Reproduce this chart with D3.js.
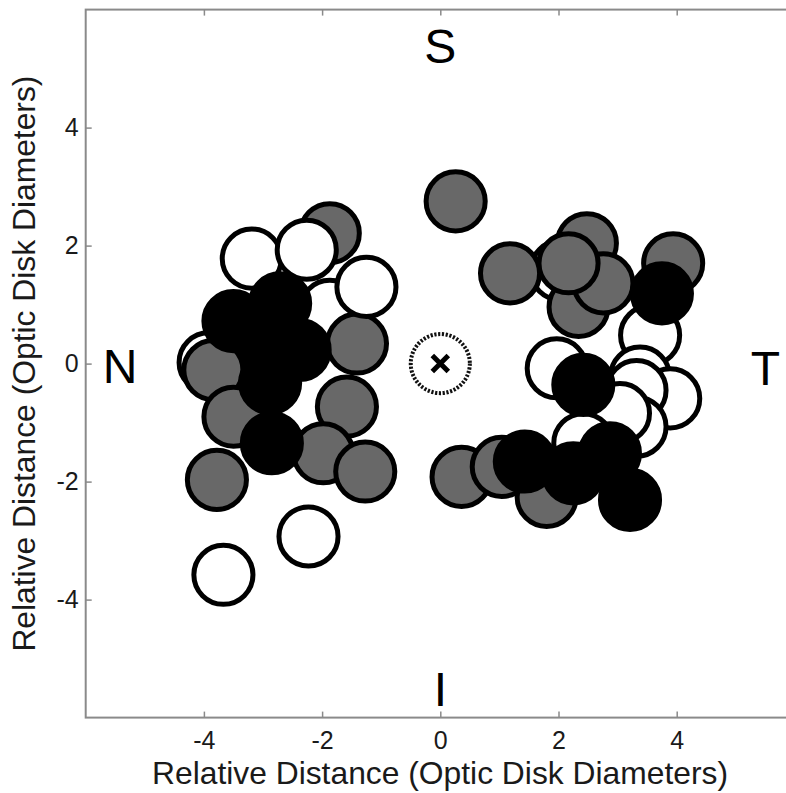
<!DOCTYPE html>
<html>
<head>
<meta charset="utf-8">
<script src="https://cdn.jsdelivr.net/npm/d3@7"></script>
<style>
body { margin: 0; background: #fff; }
text { font-family: "Liberation Sans", Arial, sans-serif; }
</style>
</head>
<body>
<div id="chart"></div>
<script>
// spot locations in optic disk diameters, in plotting order (later ones sit on top)
var spots = [
    [-3.92, 0.02, "open"], [2.03, 1.58, "open"], [-1.87, 0.91, "open"],
    [-1.87, 2.21, "gray"], [-1.41, 0.34, "gray"], [-3.84, -0.11, "gray"],
    [-3.50, -0.90, "gray"], [-1.58, -0.73, "gray"], [-1.98, -1.52, "gray"],
    [-1.27, -1.83, "gray"], [-3.78, -1.97, "gray"], [0.26, 2.75, "gray"],
    [1.18, 1.53, "gray"], [2.48, 2.04, "gray"], [2.34, 0.96, "gray"],
    [2.76, 1.36, "gray"], [2.17, 1.70, "gray"], [3.94, 1.70, "gray"],
    [0.36, -1.92, "gray"], [1.04, -1.75, "gray"], [1.80, -2.26, "gray"],
    [-3.19, 1.78, "open"], [-2.26, 1.93, "open"], [-1.25, 1.30, "open"],
    [-3.67, -3.58, "open"], [-2.23, -2.93, "open"], [3.55, 0.48, "open"],
    [1.97, -0.08, "open"], [3.38, -0.22, "open"], [3.89, -0.59, "open"],
    [3.32, -0.45, "open"], [3.32, -1.07, "open"], [3.04, -0.84, "open"],
    [2.42, -1.35, "open"],
    [-3.50, 0.72, "solid"], [-2.71, 1.02, "solid"], [-2.88, 0.27, "solid"],
    [-2.38, 0.23, "solid"], [-2.88, -0.33, "solid"], [-2.85, -1.35, "solid"],
    [3.75, 1.19, "solid"], [2.42, -0.36, "solid"], [1.43, -1.66, "solid"],
    [2.25, -1.86, "solid"], [2.87, -1.52, "solid"], [3.21, -2.31, "solid"]
];
var fovea = [0, 0];
var xTicks = [-4, -2, 0, 2, 4];
var yTicks = [-4, -2, 0, 2, 4];
var compass = [
    {name: "S", x: 0, y: 5.1},
    {name: "N", x: -5.42, y: -0.33},
    {name: "T", x: 5.5, y: -0.36},
    {name: "I", x: 0, y: -5.8}
];
var spotRadius = 0.5; // one disk diameter across

var width = 786, height = 793;
var fills = {open: "#ffffff", gray: "#686868", solid: "#000000"};

var svg = d3.select("#chart").append("svg")
    .attr("width", width)
    .attr("height", height);

var x = d3.scaleLinear().domain([-6, 6]).range([85.7, 794.9]);
var y = d3.scaleLinear().domain([-6, 6]).range([717.6, 9.6]);
var unit = x(1) - x(0);

// axes box
svg.append("rect")
    .attr("x", x(-6)).attr("y", y(6))
    .attr("width", x(6) - x(-6)).attr("height", y(-6) - y(6))
    .attr("fill", "none")
    .attr("stroke", "#8a8a8a")
    .attr("stroke-width", 2);

function styleAxis(g) {
    g.select(".domain").remove();
    g.selectAll(".tick line").attr("stroke", "#8a8a8a").attr("stroke-width", 1.5);
    g.selectAll(".tick text").attr("fill", "#1a1a1a")
        .style("font-family", "'Liberation Sans', Arial, sans-serif")
        .style("font-size", "25px");
}

svg.append("g")
    .attr("transform", "translate(0," + y(-6) + ")")
    .call(d3.axisBottom(x).tickValues(xTicks).tickSizeInner(-6).tickSizeOuter(0)
        .tickPadding(14).tickFormat(function(d) { return String(d); }))
    .call(styleAxis);

svg.append("g")
    .attr("transform", "translate(0," + y(6) + ")")
    .call(d3.axisTop(x).tickValues(xTicks).tickSizeInner(-6).tickSizeOuter(0).tickFormat(""))
    .call(styleAxis);

svg.append("g")
    .attr("transform", "translate(" + x(-6) + ",0)")
    .call(d3.axisLeft(y).tickValues(yTicks).tickSizeInner(-6).tickSizeOuter(0)
        .tickPadding(7).tickFormat(function(d) { return String(d); }))
    .call(styleAxis);

// axis titles
svg.append("text")
    .attr("x", 440).attr("y", 784)
    .attr("text-anchor", "middle")
    .attr("fill", "#1a1a1a")
    .style("font-size", "31.8px")
    .text("Relative Distance (Optic Disk Diameters)");

svg.append("text")
    .attr("transform", "translate(35," + y(0) + ") rotate(-90)")
    .attr("text-anchor", "middle")
    .attr("fill", "#1a1a1a")
    .style("font-size", "31.8px")
    .text("Relative Distance (Optic Disk Diameters)");

// compass letters
svg.selectAll(".compass")
    .data(compass)
    .enter().append("text")
    .attr("class", "compass")
    .attr("x", function(d) { return x(d.x); })
    .attr("y", function(d) { return y(d.y); })
    .attr("text-anchor", "middle")
    .attr("fill", "#000")
    .style("font-size", "48px")
    .text(function(d) { return d.name; });

// spots
svg.selectAll(".spot")
    .data(spots)
    .enter().append("circle")
    .attr("class", "spot")
    .attr("cx", function(d) { return x(d[0]); })
    .attr("cy", function(d) { return y(d[1]); })
    .attr("r", spotRadius * unit)
    .attr("fill", function(d) { return fills[d[2]]; })
    .attr("stroke", "#000")
    .attr("stroke-width", 5);

// fovea: dotted disk outline with a cross
svg.append("circle")
    .attr("cx", x(fovea[0])).attr("cy", y(fovea[1]))
    .attr("r", spotRadius * unit)
    .attr("fill", "none")
    .attr("stroke", "#111")
    .attr("stroke-width", 4)
    .attr("stroke-dasharray", "2.2,1.6");

var cs = 8;
svg.append("path")
    .attr("d", "M" + (x(fovea[0]) - cs) + "," + (y(fovea[1]) - cs) + "L" + (x(fovea[0]) + cs) + "," + (y(fovea[1]) + cs) +
        "M" + (x(fovea[0]) - cs) + "," + (y(fovea[1]) + cs) + "L" + (x(fovea[0]) + cs) + "," + (y(fovea[1]) - cs))
    .attr("stroke", "#000")
    .attr("stroke-width", 5);
</script>
</body>
</html>
